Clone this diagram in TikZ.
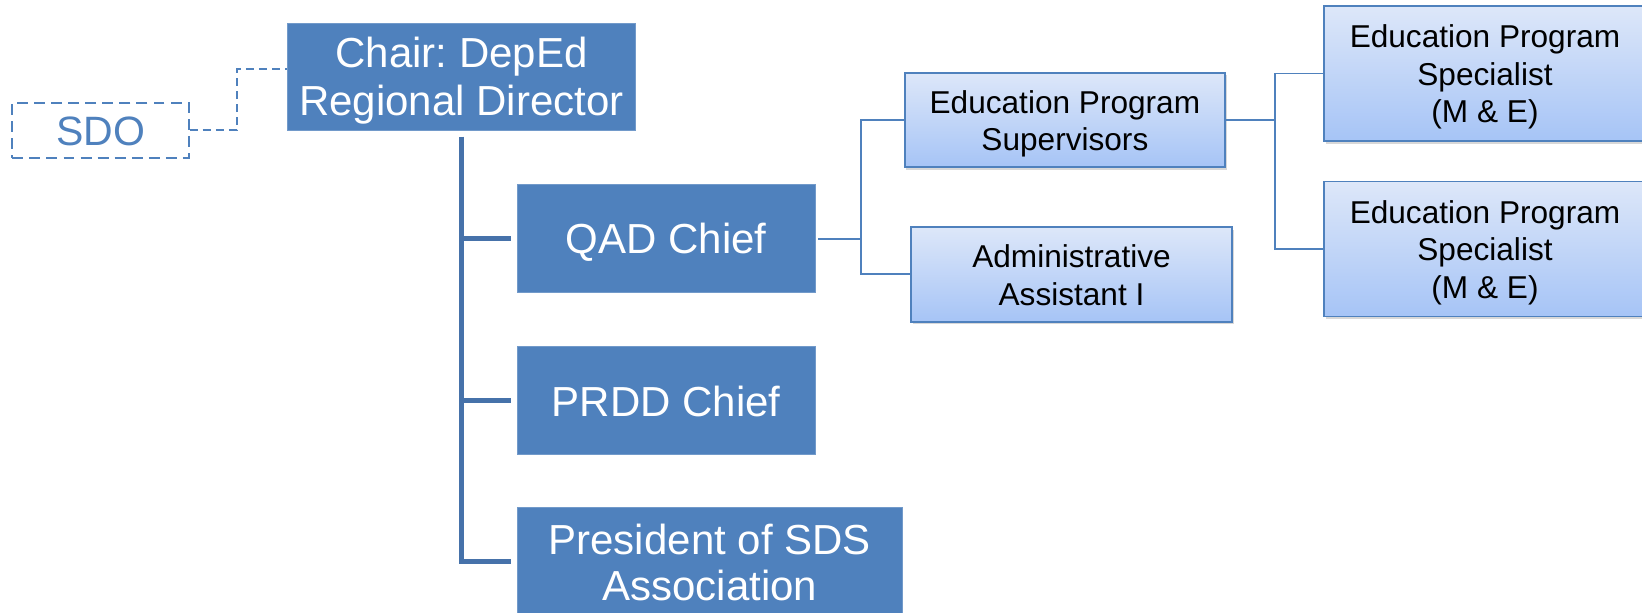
\documentclass[tikz,border=0pt]{standalone}
\usepackage{fontspec}
\setmainfont{Liberation Sans}
\usetikzlibrary{shadows}
\frenchspacing
\definecolor{mainblue}{HTML}{4F81BD}
\definecolor{trunkblue}{HTML}{4672AA}
\definecolor{gradtop}{HTML}{DDE7F9}
\definecolor{gradbot}{HTML}{A6C4F6}
\newcommand\bigst{\rule[-0.14em]{0pt}{1.04em}}
\newcommand\smst{\rule[-0.2em]{0pt}{1.16em}}
\tikzset{
  bigbox/.style={fill=mainblue, draw=mainblue!80!white, line width=0.5pt, text=white, inner sep=0pt, align=center,
    font=\fontsize{31.5}{34.5}\selectfont},
  smallbox/.style={draw=mainblue, line width=1.3pt, top color=gradtop, bottom color=gradbot, inner sep=0pt,
    align=center, text=black, font=\fontsize{23.7}{28.1}\selectfont,
    drop shadow={shadow xshift=1.2pt, shadow yshift=-2pt, opacity=0.3}},
  conn/.style={draw=mainblue, line width=1.4pt},
  trunkline/.style={draw=trunkblue, line width=3.6pt},
  dashedline/.style={draw=mainblue, line width=1.4pt, dash pattern=on 6pt off 3.8pt},
  dashedbox/.style={draw=mainblue, line width=1.4pt, dash pattern=on 8.2pt off 4.6pt},
}
\begin{document}
\begin{tikzpicture}[x=0.75pt, y=-0.75pt]
\useasboundingbox (0,0) rectangle (1642,613);
\fill[white] (0,0) rectangle (1642,613);
\clip (0,0) rectangle (1642,613);

% nodes
\node[dashedbox, minimum width=132.3pt, minimum height=41.5pt, inner sep=0pt,
  text=mainblue, font=\fontsize{30.75}{34.5}\selectfont, text height=29.8pt, text depth=6.5pt] (sdo) at (100.5,130.35) {SDO};
\node[bigbox, minimum width=261.3pt, minimum height=80.55pt] (chair) at (461.5,77) {\bigst Chair: DepEd\\\bigst Regional Director};
\node[bigbox, minimum width=223.3pt, minimum height=81pt] (qad) at (666.2,238.7) {\bigst QAD Chief};
\node[bigbox, minimum width=223.3pt, minimum height=81pt] (prdd) at (666.2,400.3) {\bigst PRDD Chief};
\node[bigbox, minimum width=288.5pt, minimum height=81pt] (pres) at (709.7,561.7) {\bigst President of SDS\\\bigst Association};

\node[smallbox, minimum width=240.2pt, minimum height=70.7pt] (eps) at (1064.9,119.9) {\smst Education Program\\\smst Supervisors};
\node[smallbox, minimum width=240.75pt, minimum height=71pt] (adm) at (1071.5,274.3) {\smst Administrative\\\smst Assistant I};
\node[smallbox, minimum width=241.5pt, minimum height=101.25pt] (spa) at (1485,73.5) {\smst Education Program\\\smst Specialist\\\smst (M \& E)};
\node[smallbox, minimum width=241.5pt, minimum height=101.25pt] (spb) at (1485,249) {\smst Education Program\\\smst Specialist\\\smst (M \& E)};

% dashed link SDO -- chair
\coordinate (dcorner) at (236.7,69);
\draw[dashedline] (sdo.east) -| (dcorner) -- (chair.west |- dcorner);

% trunk from chair
\coordinate (trunktop) at (461.3,136.7);
\draw[trunkline] (trunktop) |- ([xshift=-4.2pt]pres.west);
\draw[trunkline] (trunktop |- qad.west) -- ([xshift=-4.2pt]qad.west);
\draw[trunkline] (trunktop |- prdd.west) -- ([xshift=-4.2pt]prdd.west);

% QAD branch
\coordinate (qv) at (861,0);
\draw[conn] ([xshift=2pt]qad.east) -- (qad.east -| qv);
\draw[conn] (eps.west) -- (eps.west -| qv) -- (adm.west -| qv) -- (adm.west);

% EPS branch
\coordinate (sv) at (1275,0);
\draw[conn] (eps.east) -- (eps.east -| sv);
\draw[conn] (spa.west) -- (spa.west -| sv) -- (spb.west -| sv) -- (spb.west);
\end{tikzpicture}
\end{document}
